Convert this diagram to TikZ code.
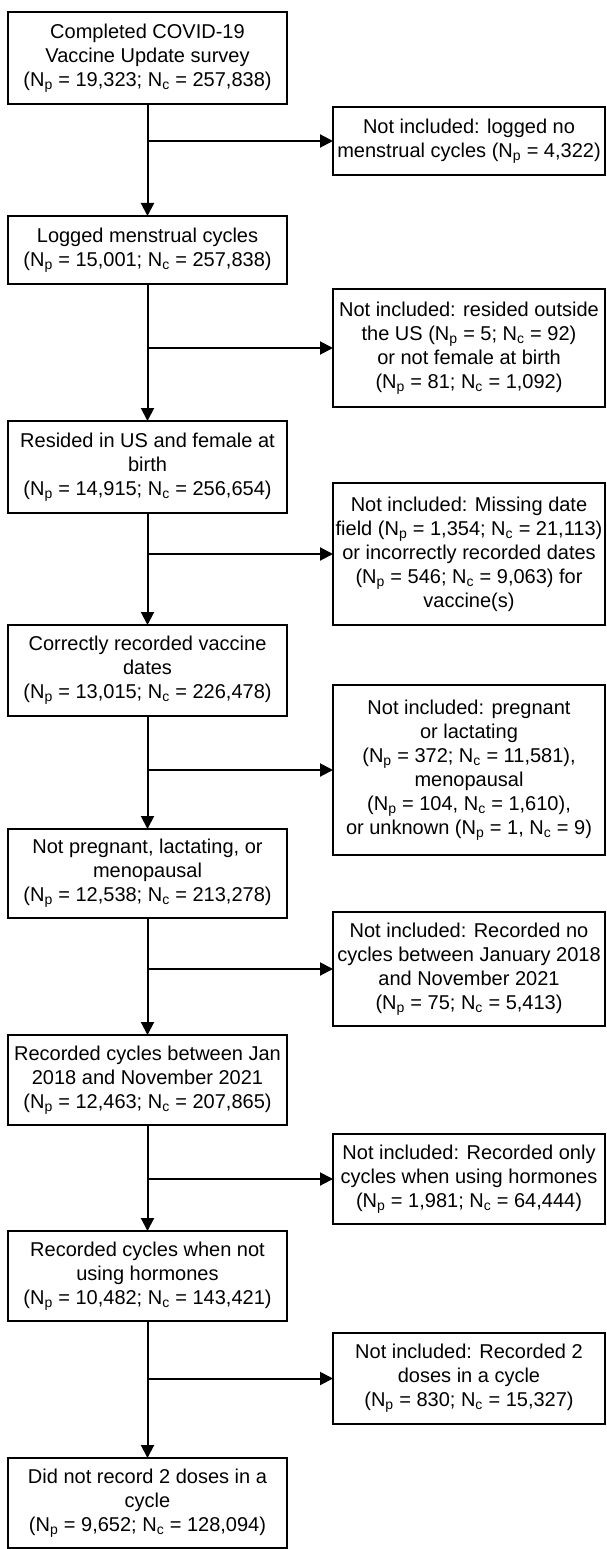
\documentclass[tikz,border=0pt]{standalone}
\usepackage{fontspec}
\setmainfont{Liberation Sans}
\usetikzlibrary{arrows.meta,positioning}
\newcommand{\Npart}{N\textsubscript{p}}
\newcommand{\Ncyc}{N\textsubscript{c}}

\begin{document}
\begin{tikzpicture}[x=1pt,y=1pt,
box/.style={draw=black,line width=2pt,fill=white,align=center,outer sep=0pt,inner sep=2pt,font=\fontsize{20}{24}\selectfont},
main/.style={box,minimum width=279pt,minimum height=90pt},
excl/.style={box,minimum width=272pt},
arr/.style={-{Triangle[length=13pt,width=13pt]},line width=2pt}]
\useasboundingbox (0,0) rectangle (606,-1549);
% retained records, left column
\node[main,minimum height=92pt,anchor=north] (m1) at (147.5,-12) {Completed COVID-19\\Vaccine Update survey\\(\Npart{} = 19,323; \Ncyc{} = 257,838)};
\node[main,minimum height=68pt,below=112pt of m1] (m2) {Logged menstrual cycles\\(\Npart{} = 15,001; \Ncyc{} = 257,838)};
\node[main,minimum height=92pt,below=137pt of m2] (m3) {Resided in US and female at\\birth\\(\Npart{} = 14,915; \Ncyc{} = 256,654)};
\node[main,minimum height=91pt,below=112pt of m3] (m4) {Correctly recorded vaccine\\dates\\(\Npart{} = 13,015; \Ncyc{} = 226,478)};
\node[main,minimum height=89pt,below=113pt of m4] (m5) {Not pregnant, lactating, or\\menopausal\\(\Npart{} = 12,538; \Ncyc{} = 213,278)};
\node[main,below=117pt of m5] (m6) {Recorded cycles between Jan\\2018 and November 2021\\(\Npart{} = 12,463; \Ncyc{} = 207,865)};
\node[main,below=106pt of m6] (m7) {Recorded cycles when not\\using hormones\\(\Npart{} = 10,482; \Ncyc{} = 143,421)};
\node[main,below=137pt of m7] (m8) {Did not record 2 doses in a\\cycle\\(\Npart{} = 9,652; \Ncyc{} = 128,094)};
% exclusions, right column
\node[excl,minimum height=68pt] (x1) at (469,-141) {Not included: logged no\\menstrual cycles (\Npart{} = 4,322)};
\node[excl,minimum height=118pt] (x2) at (469,-348) {Not included: resided outside\\the US (\Npart{} = 5; \Ncyc{} = 92)\\or not female at birth\\(\Npart{} = 81; \Ncyc{} = 1,092)};
\node[excl,minimum height=142pt] (x3) at (469,-554) {Not included: Missing date\\field (\Npart{} = 1,354; \Ncyc{} = 21,113)\\or incorrectly recorded dates\\(\Npart{} = 546; \Ncyc{} = 9,063) for\\vaccine(s)};
\node[excl,minimum height=170pt] (x4) at (469,-770) {Not included: pregnant\\or lactating\\(\Npart{} = 372; \Ncyc{} = 11,581),\\menopausal\\(\Npart{} = 104, \Ncyc{} = 1,610),\\or unknown (\Npart{} = 1, \Ncyc{} = 9)};
\node[excl,minimum height=114pt] (x5) at (469,-969) {Not included: Recorded no\\cycles between January 2018\\and November 2021\\(\Npart{} = 75; \Ncyc{} = 5,413)};
\node[excl,minimum height=90pt] (x6) at (469,-1179) {Not included: Recorded only\\cycles when using hormones\\(\Npart{} = 1,981; \Ncyc{} = 64,444)};
\node[excl,minimum height=91pt] (x7) at (469,-1378.5) {Not included: Recorded 2\\doses in a cycle\\(\Npart{} = 830; \Ncyc{} = 15,327)};
% connectors
\draw[arr] (m1)--(m2);\draw[arr] (m2)--(m3);\draw[arr] (m3)--(m4);\draw[arr] (m4)--(m5);
\draw[arr] (m5)--(m6);\draw[arr] (m6)--(m7);\draw[arr] (m7)--(m8);
\draw[arr] (m1.south|-x1.west)--(x1.west);
\draw[arr] (m2.south|-x2.west)--(x2.west);
\draw[arr] (m3.south|-x3.west)--(x3.west);
\draw[arr] (m4.south|-x4.west)--(x4.west);
\draw[arr] (m5.south|-x5.west)--(x5.west);
\draw[arr] (m6.south|-x6.west)--(x6.west);
\draw[arr] (m7.south|-x7.west)--(x7.west);
\end{tikzpicture}
\end{document}
